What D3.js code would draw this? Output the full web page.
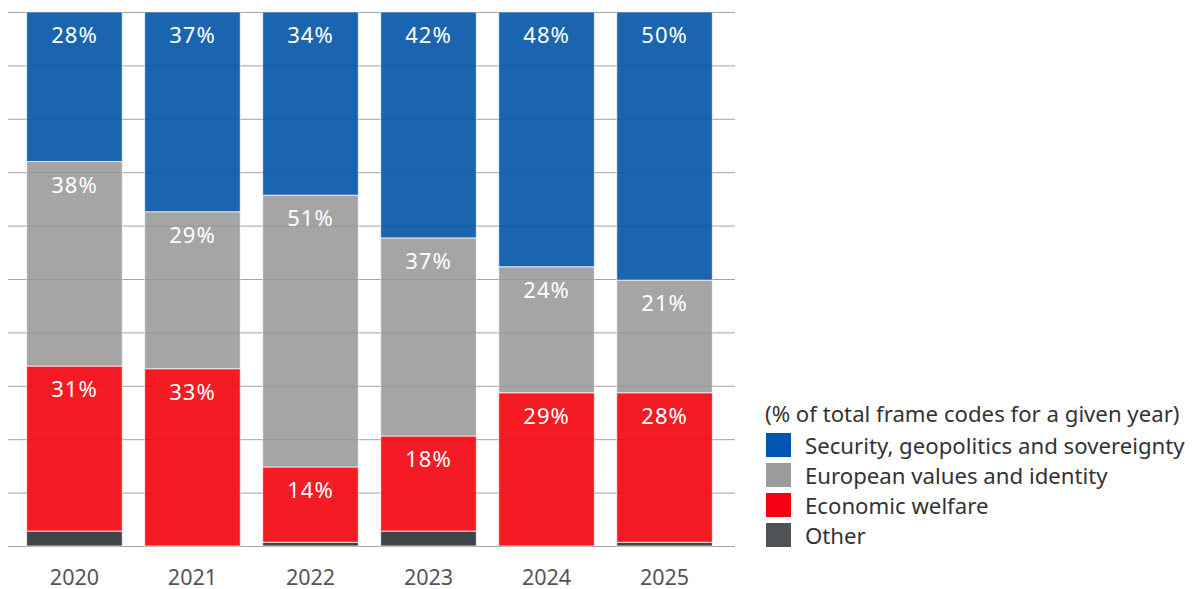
<!DOCTYPE html>
<html>
<head>
<meta charset="utf-8">
<script src="https://cdn.jsdelivr.net/npm/d3@7"></script>
<style>
  body { margin: 0; background: #fff; }
  text { font-family: "Noto Sans", Lato, sans-serif; }
</style>
</head>
<body>
<div id="chart"></div>
<script>
// Data (share of frame codes, %)
const years = ["2020", "2021", "2022", "2023", "2024", "2025"];
const other = [2.8, 0, 0.7, 2.8, 0, 0.7];
const economic = [30.9, 33.2, 14.1, 17.8, 28.7, 28.0];
const values = [38.3, 29.4, 50.9, 37.1, 23.6, 21.1];
const security = [28.0, 37.4, 34.3, 42.3, 47.7, 50.2];

const seriesKeys = ["other", "economic", "values", "security"];
const seriesNames = {
    security: "Security, geopolitics and sovereignty",
    values: "European values and identity",
    economic: "Economic welfare",
    other: "Other"
};
const barColors = { security: "#1b65b0", values: "#a5a5a5", economic: "#f51b25", other: "#404347" };
const legendColors = { security: "#0055b3", values: "#9b9b9b", economic: "#f50012", other: "#505355" };

let width = 1197, height = 589;

let table = years.map((y, i) => ({
    year: y, other: other[i], economic: economic[i], values: values[i], security: security[i]
}));

let stack = d3.stack().keys(seriesKeys);
let stacked = stack(table);

let x = d3.scaleBand()
    .domain(years)
    .range([6, 733])
    .paddingInner(0.19)
    .paddingOuter(0.175);

let y = d3.scaleLinear()
    .domain([0, 100])
    .range([546, 12]);

let svg = d3.select("#chart")
    .append("svg")
    .attr("width", width)
    .attr("height", height);

// Gridlines behind bars
let gridTicks = d3.range(0, 101, 10);
svg.append("g")
    .selectAll("line")
    .data(gridTicks)
    .enter()
    .append("line")
    .attr("x1", 8)
    .attr("x2", 735)
    .attr("y1", d => y(d) + 0.5)
    .attr("y2", d => y(d) + 0.5)
    .attr("stroke", "#b4b4b4")
    .attr("stroke-width", 1);

// Bars
let groups = svg.append("g")
    .selectAll("g")
    .data(stacked)
    .enter()
    .append("g")
    .attr("fill", d => barColors[d.key]);

groups.selectAll("rect")
    .data(d => d.filter(s => s[1] - s[0] > 0))
    .enter()
    .append("rect")
    .attr("x", d => x(d.data.year))
    .attr("width", x.bandwidth())
    .attr("y", d => y(d[1]))
    .attr("height", d => y(d[0]) - y(d[1]))
    .attr("stroke", "#ffffff")
    .attr("stroke-opacity", 0.7)
    .attr("stroke-width", 1);

// faint gridlines showing through the bars
svg.append("g")
    .selectAll("line")
    .data(gridTicks)
    .enter()
    .append("line")
    .attr("x1", 8)
    .attr("x2", 735)
    .attr("y1", d => y(d) + 0.5)
    .attr("y2", d => y(d) + 0.5)
    .attr("stroke", "#000000")
    .attr("stroke-opacity", 0.08)
    .attr("stroke-width", 1);

// Segment labels
groups.filter(d => d.key != "other")
    .selectAll("text")
    .data(d => d)
    .enter()
    .append("text")
    .attr("x", d => x(d.data.year) + x.bandwidth() / 2)
    .attr("y", d => y(d[1]) + 22)
    .attr("dominant-baseline", "central")
    .attr("text-anchor", "middle")
    .attr("fill", "#ffffff")
    .attr("font-size", 22)
    .attr("letter-spacing", 1)
    .text(d => Math.round(d[1] - d[0]) + "%");

// Year labels
svg.append("g")
    .selectAll("text")
    .data(years)
    .enter()
    .append("text")
    .attr("x", d => x(d) + x.bandwidth() / 2)
    .attr("y", 576)
    .attr("dominant-baseline", "central")
    .attr("text-anchor", "middle")
    .attr("fill", "#555555")
    .attr("font-size", 21.5)
    .text(d => d);

// Legend
let legend = svg.append("g").attr("transform", "translate(765, 0)");
legend.append("text")
    .attr("x", 0)
    .attr("y", 413)
    .attr("dominant-baseline", "central")
    .attr("fill", "#333333")
    .attr("font-size", 22.2)
    .text("(% of total frame codes for a given year)");

let legendItems = legend.selectAll(".legendItem")
    .data(["security", "values", "economic", "other"])
    .enter()
    .append("g")
    .attr("class", "legendItem")
    .attr("transform", (d, i) => "translate(0," + (433 + i * 30) + ")");

legendItems.append("rect")
    .attr("x", 1)
    .attr("width", 25)
    .attr("height", 24)
    .attr("fill", d => legendColors[d]);

legendItems.append("text")
    .attr("x", 40)
    .attr("y", 12)
    .attr("dominant-baseline", "central")
    .attr("fill", "#333333")
    .attr("font-size", 22.2)
    .text(d => seriesNames[d]);
</script>
</body>
</html>
